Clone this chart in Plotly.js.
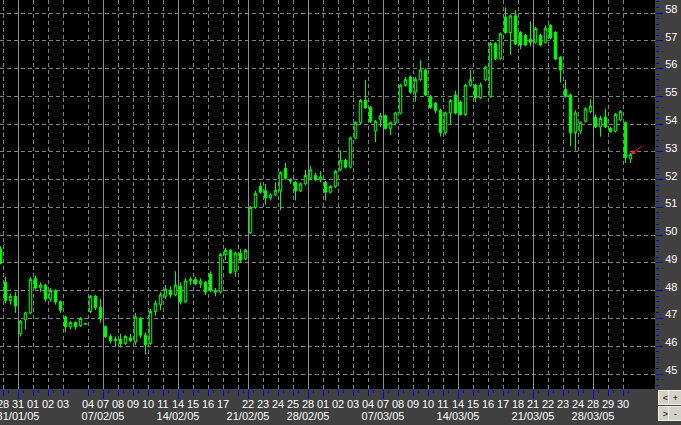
<!DOCTYPE html>
<html><head><meta charset="utf-8">
<script src="https://cdn.plot.ly/plotly-3.0.1.min.js"></script>
<style>html,body{margin:0;padding:0;background:#404040;}#chart{width:681px;height:425px;}</style>
</head><body><div id="chart"></div>
<script>
// Day labels (first entry = tail of previous day), bars per day, week labels
const dayLabels = ['', '28','31','01','02','03','04','07','08','09','10','11','14','15','16','17','', // 18 Feb label hidden in the original
  '22','23','24','25','28','01','02','03','04','07','08','09','10','11','14','15','16','17','18','21','22','23','24','28','29','30'];
const dayBars = [1,3,3,3,3,5,3, 3,3,3,3,3, 3,3,3,3,2, 3,3,3,3, 3, 3,3,3,3, 3,3,3,3,3, 3,3,3,3,3, 3,3,3,3, 3,3,2];
const weekLabels = ['', '', '31/01/05', '', '', '', '', '07/02/05', '', '', '', '', '14/02/05', '', '', '', '',
  '21/02/05', '', '', '', '28/02/05', '', '', '', '', '07/03/05', '', '', '', '', '14/03/05', '', '', '', '', '21/03/05', '', '', '', '28/03/05', '', ''];

const open  = [49.5,48.3,47.65,47.8,46.45,46.95,47.2,48.45,48.1,48.2,47.7,48.0,47.6,47.05,46.7,46.85,46.75,46.8,47.25,47.8,
  47.4,46.7,46.35,46.2,46.25,46.1,46.3,46.15,47.0,46.4,46.1,47.25,47.5,47.8,48.0,47.85,48.15,47.6,48.35,48.4,
  48.25,48.3,48.6,48.0,47.95,49.3,49.45,48.7,49.35,49.15,50.1,51.0,51.75,51.6,51.35,51.45,51.6,52.4,52.0,51.9,
  51.6,51.85,52.05,52.15,52.0,51.9,51.55,51.75,52.35,52.7,52.45,53.5,54.05,54.85,54.6,53.75,54.15,54.3,53.85,54.05,
  54.4,55.4,55.7,55.15,55.6,55.95,55.0,54.75,54.5,53.7,54.4,55.05,54.8,54.35,55.4,55.4,54.95,55.6,55.0,56.9,
  56.35,57.85,57.3,57.9,57.3,57.2,57.05,56.95,57.2,56.95,57.55,57.3,56.4,55.25,55.05,53.7,53.75,54.1,54.45,54.25,
  53.9,54.25,53.85,53.75,54.15,54.05,52.75];
const high  = [49.6,48.5,47.9,47.95,46.95,47.25,48.5,48.55,48.3,48.25,48.1,48.05,47.65,47.1,46.9,46.9,47.05,46.82,47.85,47.85,
  47.7,46.75,46.45,46.35,46.45,46.4,46.45,47.2,47.05,46.5,47.35,47.65,47.95,48.2,48.15,48.7,48.3,48.45,48.5,48.5,
  48.45,48.35,48.7,48.1,49.35,49.55,49.5,49.4,49.5,49.5,51.05,51.6,51.9,51.85,51.5,51.9,52.3,52.6,52.05,51.95,
  51.9,52.35,52.5,52.25,52.3,51.95,51.8,52.35,53.05,52.75,53.55,54.1,54.9,55.6,54.65,54.15,54.4,54.35,54.1,54.45,
  55.45,55.7,55.75,55.7,56.3,56.0,55.05,54.8,54.55,54.45,54.9,55.2,54.85,55.45,55.95,55.45,55.5,56.1,56.95,56.95,
  57.3,58.2,57.95,58.1,57.35,57.25,57.7,57.5,57.25,57.55,57.6,57.35,56.45,55.6,55.1,54.5,54.1,54.6,54.9,54.35,
  54.3,54.55,53.9,54.4,54.5,54.1,52.95];
const low   = [48.95,47.55,47.5,47.2,46.35,46.6,47.15,48.05,47.95,47.6,47.6,47.5,47.2,46.5,46.6,46.6,46.7,46.78,47.2,47.3,
  46.85,46.3,46.1,46.0,45.95,46.05,46.15,46.05,46.3,45.7,46.05,47.1,47.3,47.7,47.75,47.8,47.5,47.55,48.2,48.2,
  48.1,47.85,47.95,47.8,47.9,49.1,48.6,48.5,49.0,49.1,50.05,50.95,51.5,51.1,51.25,51.4,50.9,52.0,51.85,51.25,
  51.55,51.8,52.0,51.95,51.9,51.25,51.5,51.7,52.3,52.4,52.4,53.45,54.0,54.55,54.05,53.35,53.9,53.8,53.6,53.95,
  54.35,55.35,55.1,54.8,55.55,55.0,54.55,54.4,53.55,53.6,54.0,54.35,54.3,54.3,55.35,54.8,54.9,55.55,54.95,56.3,
  56.3,57.25,56.5,56.85,56.7,56.8,56.8,56.9,56.8,56.9,57.05,56.3,55.5,54.95,53.2,53.05,53.65,54.05,54.4,53.85,
  53.55,53.85,53.7,53.7,54.1,52.6,52.6];
const close = [49.0,47.65,47.8,47.45,46.9,47.2,48.4,48.1,48.2,47.7,48.0,47.6,47.3,46.7,46.85,46.7,47.0,46.81,47.8,47.4,
  47.0,46.35,46.2,46.25,46.1,46.35,46.2,47.05,46.4,46.05,47.25,47.55,47.85,48.05,47.85,48.2,47.6,48.35,48.4,48.25,
  48.35,47.95,48.0,47.95,49.3,49.45,48.65,49.35,49.1,49.45,51.0,51.5,51.55,51.35,51.45,51.6,52.25,52.05,51.95,51.6,
  51.85,52.15,52.35,52.0,52.1,51.55,51.75,52.3,52.7,52.45,53.5,54.05,54.85,54.6,54.1,54.1,54.3,53.85,54.05,54.4,
  55.4,55.6,55.15,55.6,55.95,55.05,54.6,54.5,53.7,54.4,54.85,54.4,54.35,55.4,55.6,54.95,55.4,56.05,56.9,56.35,
  57.25,57.3,57.9,56.9,56.85,56.85,56.95,57.45,56.85,57.45,57.1,56.35,55.95,55.0,53.7,54.4,54.05,54.55,54.65,53.9,
  54.2,53.9,53.72,54.35,54.45,52.8,52.9];

// bar index positions
const xIdx = open.map((_, i) => i);
const dayStart = [];
let acc = 0;
dayBars.forEach(n => { dayStart.push(acc); acc += n; });
const dayPos = dayStart.map(s => s - 0.5);
const weekPos = dayPos.filter((_, i) => weekLabels[i]);
const weekText = weekLabels.filter(w => w);
const minorPos = dayPos.map(p => p + 1);
const xRange = [-0.1, 130.9];

const green = '#00ff00';
const traces = [{
  type: 'candlestick', x: xIdx, open: open, high: high, low: low, close: close,
  increasing: {line: {color: green, width: 1}, fillcolor: '#000000'},
  decreasing: {line: {color: green, width: 1}, fillcolor: green},
  whiskerwidth: 0, hoverinfo: 'none', showlegend: false
}, {
  type: 'scatter', x: [], y: [], xaxis: 'x2', yaxis: 'y', showlegend: false
}];

const font = {family: 'Liberation Sans, Arial, sans-serif', size: 11, color: '#ffffff'};
const blue = '#0000ff';
const W = 655, H = 389;
const btns = [{t: '<', x: 665, y: 398}, {t: '+', x: 676, y: 398}, {t: '>', x: 665, y: 413}, {t: '-', x: 676, y: 413}];
const annotations = btns.map(b => ({
  xref: 'paper', yref: 'paper', x: b.x / W, y: (H - b.y) / H, text: b.t, showarrow: false,
  xanchor: 'center', yanchor: 'middle', width: 11, height: 11, bgcolor: '#d4d0c8',
  bordercolor: '#f0f0f0', borderwidth: 1, font: {family: 'Liberation Sans, Arial', size: 9, color: '#000000'}
}));
const last = close.length - 1;
annotations.push({x: last, y: close[last], xref: 'x', yref: 'y', ax: 13, ay: -10, text: '',
  showarrow: true, arrowhead: 2, arrowsize: 1, arrowwidth: 1, arrowcolor: '#ff2020', standoff: 0});

const layout = {
  width: 681, height: 425,
  margin: {l: 0, r: 26, t: 0, b: 36, pad: 0},
  paper_bgcolor: '#404040', plot_bgcolor: '#000000',
  showlegend: false, boxgap: 0.3,
  xaxis: {
    range: xRange, tickmode: 'array', tickvals: dayPos, ticktext: dayLabels, tickangle: 0,
    ticklabeloverflow: 'allow', ticklabelstandoff: -1,
    showgrid: true, gridcolor: '#808080', griddash: '4px,3px', gridwidth: 1,
    ticks: 'outside', ticklen: 6, tickwidth: 1, tickcolor: blue, tickfont: font,
    zeroline: false, showline: false, fixedrange: true, rangeslider: {visible: false},
    minor: {tickvals: minorPos, ticks: 'outside', ticklen: 3, tickcolor: blue, showgrid: false}
  },
  xaxis2: {
    overlaying: 'x', range: xRange, tickmode: 'array', tickvals: weekPos, ticktext: weekText, tickangle: 0,
    ticklabeloverflow: 'allow', ticklabelstandoff: 8, tickfont: font,
    showgrid: true, gridcolor: '#909090', gridwidth: 1, ticks: 'outside', ticklen: 9, tickcolor: blue,
    zeroline: false, showline: false, fixedrange: true
  },
  yaxis: {
    side: 'right', range: [44.46, 58.47], tick0: 45, dtick: 1,
    showgrid: true, gridcolor: '#808080', griddash: '4px,3px', gridwidth: 1,
    ticks: 'outside', ticklen: 7, tickwidth: 1, tickcolor: '#0000cc', tickfont: font,
    ticklabelshift: -4, zeroline: false, showline: false, fixedrange: true,
    minor: {tick0: 45, dtick: 0.2, ticks: 'outside', ticklen: 3, tickcolor: '#0000cc', showgrid: false}
  },
  annotations: annotations
};
Plotly.newPlot('chart', traces, layout, {staticPlot: true, displayModeBar: false});
</script></body></html>
